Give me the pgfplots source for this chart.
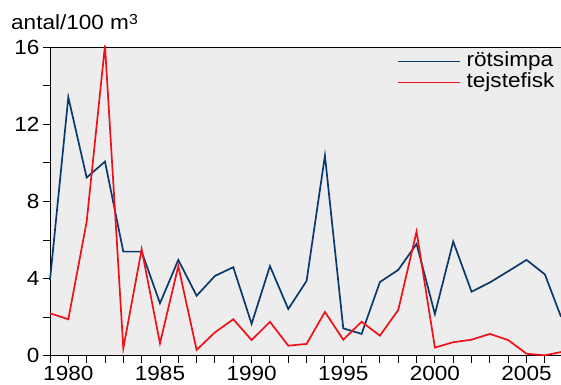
\documentclass[border=0pt]{standalone}
\usepackage{pgfplots}
\pgfplotsset{compat=1.18}
\usepackage{fontspec}
\setmainfont{Liberation Sans}[FakeStretch=1.1]
\usetikzlibrary{calc}
\definecolor{navy}{RGB}{10,58,107}
\definecolor{rred}{RGB}{240,16,24}
\definecolor{bg}{RGB}{237,237,237}
\newcommand{\bigf}{\fontsize{20.5}{22}\selectfont}
\begin{document}
\begin{tikzpicture}
\begin{axis}[
  name=ax,
  scale only axis,
  width=511pt, height=308.4pt,
  xmin=1979, xmax=2006.88,
  ymin=0, ymax=16,
  axis x line=box, axis y line=left,
  axis line style={line width=0.9pt, -},
  axis background/.style={fill=bg},
  clip=false,
  xtick={1980,1985,...,2005},
  minor xtick={1979,...,2006},
  ytick={0,4,8,12,16},
  minor ytick={2,6,10,14},
  tick align=outside,
  xtick pos=bottom, ytick pos=left,
  major tick length=7pt, minor tick length=7pt,
  tick style={line width=0.9pt, black},
  x tick label style={/pgf/number format/1000 sep={}},
  tick label style={font=\bigf},
  /pgf/number format/assume math mode=true,
  xticklabel shift=0pt,
  yticklabel shift=0pt,
  legend style={draw=none, fill=none, at={(rel axis cs:0.68,0.985)}, anchor=north west,
    font=\bigf, inner sep=0pt, row sep=2.3pt, column sep=7pt,
    nodes={inner sep=0pt, text height=14.7pt, text depth=4pt},
    legend cell align=left},
  legend image code/.code={\fill[#1, draw=none] (0pt,-0.95pt) rectangle (62pt,0.95pt);},
]
\addplot[navy, line width=1.7pt] coordinates {
(1979,3.93)(1980,13.41)(1981,9.24)(1982,10.07)(1983,5.4)(1984,5.4)(1985,2.72)(1986,4.97)
(1987,3.11)(1988,4.14)(1989,4.59)(1990,1.65)(1991,4.65)(1992,2.42)(1993,3.88)(1994,10.38)
(1995,1.42)(1996,1.13)(1997,3.82)(1998,4.45)(1999,5.8)(2000,2.16)(2001,5.92)(2002,3.32)
(2003,3.8)(2004,4.38)(2005,4.97)(2006,4.22)(2006.88,2.02)};
\addlegendentry{rötsimpa}
\addplot[rred, line width=1.7pt] coordinates {
(1979,2.2)(1980,1.89)(1981,6.95)(1982,16.1)(1983,0.38)(1984,5.52)(1985,0.64)(1986,4.65)
(1987,0.3)(1988,1.21)(1989,1.89)(1990,0.81)(1991,1.76)(1992,0.52)(1993,0.61)(1994,2.27)
(1995,0.83)(1996,1.76)(1997,1.04)(1998,2.37)(1999,6.44)(2000,0.42)(2001,0.7)(2002,0.83)
(2003,1.13)(2004,0.81)(2005,0.1)(2006,0.02)(2006.88,0.19)};
\addlegendentry{tejstefisk}
\node[anchor=base west, font=\bigf, inner sep=0pt, xshift=-39pt, yshift=18pt]
  at (rel axis cs:0,1) {antal/100 m\raisebox{4.3pt}{\fontsize{14.5}{15}\selectfont 3}};
\end{axis}
\pgfresetboundingbox
\path[use as bounding box] ($(ax.south west)+(-50pt,-29.3pt)$) rectangle ($(ax.north east)+(0pt,47.3pt)$);
\end{tikzpicture}
\end{document}
